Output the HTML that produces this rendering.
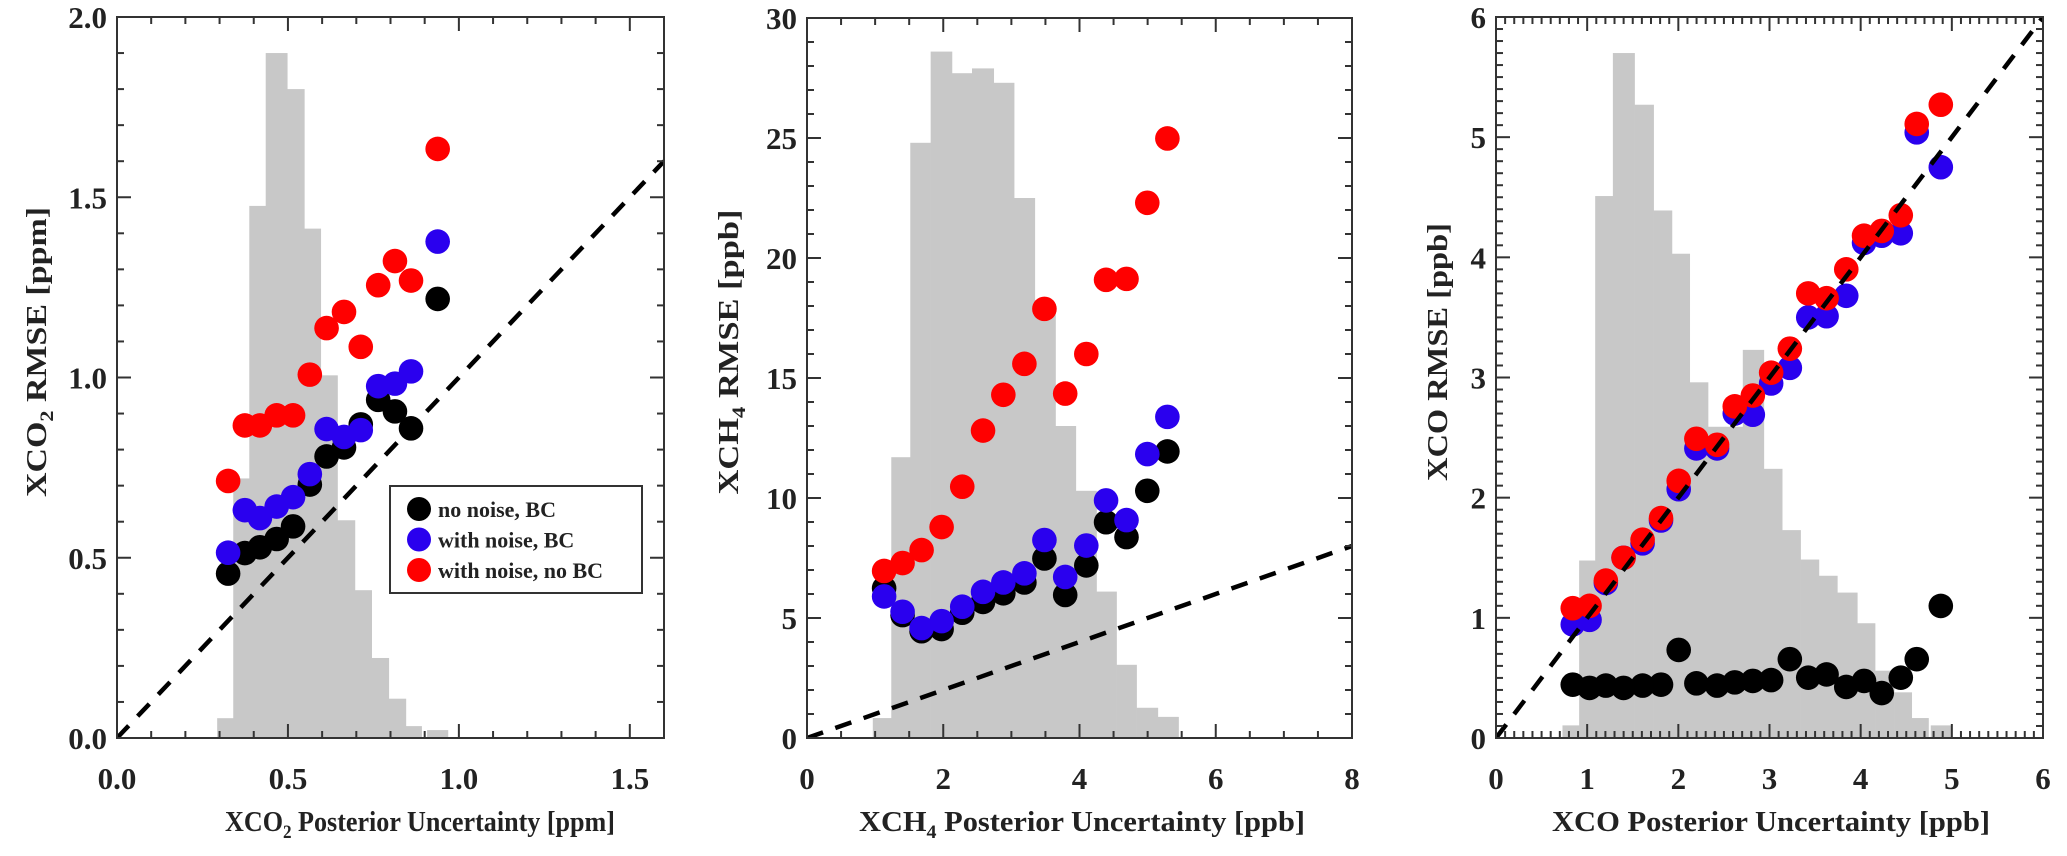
<!DOCTYPE html>
<html><head><meta charset="utf-8"><style>
html,body{margin:0;padding:0;background:#fff;}
svg{display:block;}
text{font-family:"Liberation Serif",serif;font-weight:bold;fill:#222;}
</style></head>
<body>
<svg id="fig" width="2067" height="856" viewBox="0 0 2067 856" xmlns="http://www.w3.org/2000/svg"></svg>
<script>
// ---------- Panel 1 data (XCO2) ----------
const p1X = [0.325,0.374,0.418,0.467,0.515,0.564,0.613,0.664,0.713,0.764,0.813,0.860,0.938];
const p1Black = [0.456,0.513,0.529,0.552,0.587,0.703,0.781,0.806,0.870,0.938,0.906,0.859,1.218];
const p1Blue = [0.514,0.632,0.610,0.642,0.668,0.732,0.857,0.835,0.854,0.976,0.983,1.017,1.377];
const p1Red = [0.713,0.867,0.867,0.895,0.895,1.008,1.137,1.182,1.085,1.256,1.323,1.269,1.634];
const p1HistEdges = [0.293,0.340,0.387,0.435,0.498,0.548,0.596,0.645,0.696,0.745,0.795,0.845,0.891,0.907,0.968];
const p1HistHeights = [0.055,0.72,1.476,1.90,1.80,1.413,1.006,0.604,0.41,0.222,0.109,0.033,0,0.022];
const p1XTicks = ["0.0","0.5","1.0","1.5"];
const p1YTicks = ["0.0","0.5","1.0","1.5","2.0"];
// ---------- Panel 2 data (XCH4) ----------
const p2X = [1.132,1.403,1.682,1.976,2.279,2.584,2.882,3.191,3.485,3.79,4.10,4.39,4.69,4.995,5.29];
const p2Black = [6.24,5.12,4.45,4.54,5.22,5.67,6.03,6.48,7.48,5.96,7.19,8.99,8.37,10.3,11.94];
const p2Blue = [5.9,5.26,4.58,4.87,5.47,6.09,6.48,6.86,8.25,6.71,8.02,9.9,9.08,11.83,13.38];
const p2Red = [6.96,7.29,7.83,8.79,10.47,12.81,14.3,15.59,17.88,14.35,16.0,19.09,19.13,22.3,24.98];
const p2HistEdges = [0.966,1.237,1.516,1.815,2.128,2.422,2.741,3.04,3.344,3.648,3.946,4.25,4.544,4.838,5.15,5.454];
const p2HistHeights = [0.83,11.7,24.8,28.6,27.7,27.9,27.3,22.5,17.9,13.0,10.3,6.1,3.05,1.26,0.88];
const p2XTicks = ["0","2","4","6","8"];
const p2YTicks = ["0","5","10","15","20","25","30"];
// ---------- Panel 3 data (XCO) ----------
const p3X = [0.842,1.026,1.205,1.399,1.608,1.810,2.004,2.198,2.425,2.619,2.817,3.018,3.223,3.425,3.626,3.842,4.037,4.231,4.440,4.615,4.879];
const p3Black = [0.444,0.417,0.436,0.417,0.436,0.444,0.733,0.455,0.436,0.463,0.475,0.482,0.656,0.502,0.529,0.425,0.475,0.374,0.502,0.656,1.099];
const p3Blue = [0.945,0.983,1.29,1.50,1.62,1.81,2.07,2.41,2.41,2.70,2.69,2.95,3.08,3.50,3.51,3.68,4.12,4.18,4.20,5.04,4.75];
const p3Red = [1.08,1.10,1.31,1.50,1.65,1.83,2.14,2.49,2.44,2.76,2.85,3.04,3.24,3.70,3.66,3.90,4.18,4.22,4.35,5.11,5.27];
const p3HistEdges = [0.729,0.912,1.088,1.282,1.52,1.729,1.93,2.125,2.326,2.516,2.707,2.938,3.139,3.341,3.542,3.744,3.963,4.158,4.367,4.56,4.744,4.769,4.996];
const p3HistHeights = [0.105,1.477,4.51,5.70,5.27,4.39,4.03,2.96,2.59,2.59,3.23,2.24,1.73,1.485,1.35,1.21,0.955,0.56,0.38,0.166,0,0.105];
const p3XTicks = ["0","1","2","3","4","5","6"];
const p3YTicks = ["0","1","2","3","4","5","6"];

const NS = "http://www.w3.org/2000/svg";
const svg = document.getElementById("fig");
function mk(tag, attrs, parent){
  const e = document.createElementNS(NS, tag);
  for (const k in attrs) e.setAttribute(k, attrs[k]);
  (parent||svg).appendChild(e);
  return e;
}

function panel(cfg){
  const g = mk("g", {});
  
  
  const sx = v => cfg.px0 + (v - 0) / cfg.xmax * (cfg.px1 - cfg.px0);
  const sy = v => cfg.py0 - (v - 0) / cfg.ymax * (cfg.py0 - cfg.py1);
  const cid = "clip-" + cfg.name;
  const cp = mk("clipPath", {id: cid}, g);
  mk("rect", {x: cfg.px0, y: cfg.py1, width: cfg.px1 - cfg.px0, height: cfg.py0 - cfg.py1}, cp);
  const plot = mk("g", {"clip-path": "url(#" + cid + ")"}, g);
  for (let i = 0; i < cfg.hh.length; i++) {
    if (cfg.hh[i] <= 0) continue;
    const x0 = sx(cfg.he[i]), x1 = sx(cfg.he[i+1]);
    const r = mk("rect", {x: x0, y: sy(cfg.hh[i]), width: x1 - x0 + 0.3, height: sy(0) - sy(cfg.hh[i]), fill: "#c8c8c8"}, plot);
    
    
  }
  const series = [[cfg.black, "#000000", "no-noise-bc"], [cfg.blue, "#2a00ee", "with-noise-bc"], [cfg.red, "#ff0000", "with-noise-no-bc"]];
  for (const s of series) {
    for (let i = 0; i < s[0].length; i++) {
      const c = mk("circle", {cx: sx(cfg.xs[i]), cy: sy(s[0][i]), r: 12.3, fill: s[1]}, plot);
      
      
    }
  }
  const ln = mk("line", {x1: sx(0), y1: sy(0), x2: sx(cfg.xmax), y2: sy(cfg.xmax), stroke: "#000", "stroke-width": 4.5, "stroke-dasharray": "17 13"}, plot);
  
  
  const fr = mk("rect", {x: cfg.px0, y: cfg.py1, width: cfg.px1 - cfg.px0, height: cfg.py0 - cfg.py1, fill: "none", stroke: "#333", "stroke-width": 2}, g);
  
  
  const tk = mk("g", {stroke: "#333", "stroke-width": 2}, g);
  
  
  const nxm = Math.round(cfg.xmax / cfg.xminor);
  for (let i = 0; i <= nxm; i++) {
    const v = i * cfg.xminor;
    const major = Math.abs(v / cfg.xmajor - Math.round(v / cfg.xmajor)) < 1e-6;
    const L = major ? 14 : 7;
    const x = sx(v);
    mk("line", {x1: x, y1: cfg.py0, x2: x, y2: cfg.py0 - L}, tk);
    mk("line", {x1: x, y1: cfg.py1, x2: x, y2: cfg.py1 + L}, tk);
  }
  const nym = Math.round(cfg.ymax / cfg.yminor);
  for (let i = 0; i <= nym; i++) {
    const v = i * cfg.yminor;
    const major = Math.abs(v / cfg.ymajor - Math.round(v / cfg.ymajor)) < 1e-6;
    const L = major ? 14 : 7;
    const y = sy(v);
    mk("line", {x1: cfg.px0, y1: y, x2: cfg.px0 + L, y2: y}, tk);
    mk("line", {x1: cfg.px1, y1: y, x2: cfg.px1 - L, y2: y}, tk);
  }
  for (let i = 0; i < cfg.xt.length; i++) {
    const t = mk("text", {x: sx(i * cfg.xmajor), y: 789, "font-size": 31, "text-anchor": "middle"}, g);
    t.textContent = cfg.xt[i];
    
    
  }
  for (let i = 0; i < cfg.yt.length; i++) {
    const t = mk("text", {x: cfg.px0 - 10, y: sy(i * cfg.ymajor) + 11, "font-size": 31, "text-anchor": "end"}, g);
    t.textContent = cfg.yt[i];
    
    
  }
  const xt = mk("text", {x: cfg.xtitle.cx - cfg.xtitle.len / 2, y: 831, "font-size": 29, textLength: cfg.xtitle.len, lengthAdjust: "spacingAndGlyphs"}, g);
  xt.innerHTML = cfg.xtitle.html;
  
  
  const yt = mk("text", {x: 0, y: 0, "font-size": 29, textLength: cfg.ytitle.len, lengthAdjust: "spacingAndGlyphs",
    transform: "translate(" + cfg.ytitle.x + "," + (cfg.ytitle.cy + cfg.ytitle.len / 2) + ") rotate(-90)"}, g);
  yt.innerHTML = cfg.ytitle.html;
  
  
}

panel({name: "xco2-panel", px0: 117, px1: 664, py0: 738, py1: 17, xmax: 1.6, ymax: 2.0,
  xmajor: 0.5, xminor: 0.1, ymajor: 0.5, yminor: 0.1,
  xs: p1X, black: p1Black, blue: p1Blue, red: p1Red, he: p1HistEdges, hh: p1HistHeights, xt: p1XTicks, yt: p1YTicks,
  xtitle: {cx: 420, len: 390, html: 'XCO<tspan font-size="19" dy="7">2</tspan><tspan dy="-7"> Posterior Uncertainty [ppm]</tspan>'},
  ytitle: {x: 46, cy: 352, len: 290, html: 'XCO<tspan font-size="19" dy="7">2</tspan><tspan dy="-7"> RMSE [ppm]</tspan>'}});

panel({name: "xch4-panel", px0: 807, px1: 1352, py0: 738, py1: 18, xmax: 8, ymax: 30,
  xmajor: 2, xminor: 0.5, ymajor: 5, yminor: 1,
  xs: p2X, black: p2Black, blue: p2Blue, red: p2Red, he: p2HistEdges, hh: p2HistHeights, xt: p2XTicks, yt: p2YTicks,
  xtitle: {cx: 1082, len: 446, html: 'XCH<tspan font-size="19" dy="7">4</tspan><tspan dy="-7"> Posterior Uncertainty [ppb]</tspan>'},
  ytitle: {x: 738, cy: 352, len: 285, html: 'XCH<tspan font-size="19" dy="7">4</tspan><tspan dy="-7"> RMSE [ppb]</tspan>'}});

panel({name: "xco-panel", px0: 1496, px1: 2043, py0: 738, py1: 17, xmax: 6, ymax: 6,
  xmajor: 1, xminor: 0.1, ymajor: 1, yminor: 0.1,
  xs: p3X, black: p3Black, blue: p3Blue, red: p3Red, he: p3HistEdges, hh: p3HistHeights, xt: p3XTicks, yt: p3YTicks,
  xtitle: {cx: 1771, len: 438, html: 'XCO Posterior Uncertainty [ppb]'},
  ytitle: {x: 1447, cy: 352, len: 258, html: 'XCO RMSE [ppb]'}});

const lg = mk("g", {});


mk("rect", {x: 390, y: 486, width: 252, height: 107, fill: "#fff", stroke: "#333", "stroke-width": 2}, lg);
const legendLabels = ["no noise, BC", "with noise, BC", "with noise, no BC"];
const legendColors = ["#000000", "#2a00ee", "#ff0000"];
for (let i = 0; i < 3; i++) {
  const cy = 509 + i * 30.5;
  const c = mk("circle", {cx: 419, cy: cy, r: 12, fill: legendColors[i]}, lg);
  
  
  const t = mk("text", {x: 438, y: cy + 8, "font-size": 22}, lg);
  t.textContent = legendLabels[i];
  
  
}
</script>
</body></html>
